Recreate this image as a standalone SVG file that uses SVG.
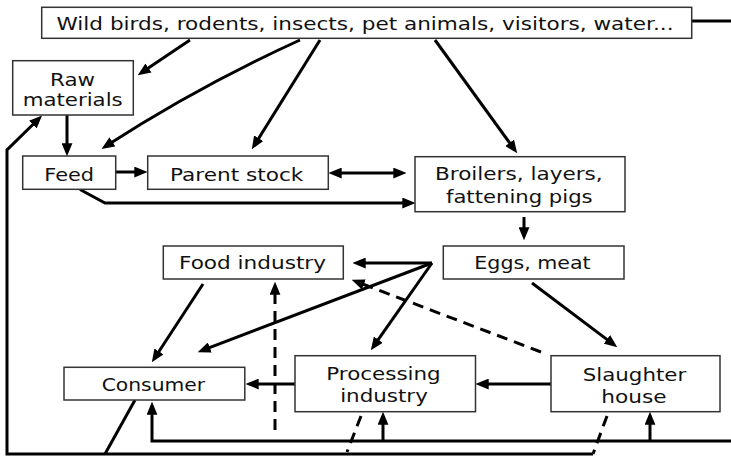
<svg xmlns="http://www.w3.org/2000/svg" width="731" height="456" viewBox="0 0 731 456">
<style>
.box{fill:#fff;stroke:#333;stroke-width:1.5}
.t{font-family:"DejaVu Sans","Verdana",sans-serif;font-size:18px;fill:#111;text-anchor:middle}
.c{fill:none;stroke:#000;stroke-width:3}
.a{marker-end:url(#ah)}
.d{stroke-dasharray:11 7}
</style>
<defs>
<marker id="ah" viewBox="0 0 12 10" refX="8" refY="5" markerWidth="13" markerHeight="11" markerUnits="userSpaceOnUse" orient="auto-start-reverse">
<path d="M0,0 L12,5 L0,10 z" fill="#000"/>
</marker>
</defs>
<rect width="731" height="456" fill="#fff"/>
<g id="connectors">
<line class="c" x1="692" y1="21" x2="731" y2="21"/>
<line class="c a" x1="190" y1="40" x2="141.3" y2="72.8"/>
<path class="c a" d="M300,40 Q197,87 105.2,146.6"/>
<line class="c a" x1="320" y1="40" x2="254.1" y2="145.6"/>
<line class="c a" x1="435" y1="40" x2="514.7" y2="149.8"/>
<line class="c a" x1="67" y1="115" x2="67" y2="152"/>
<line class="c a" x1="116" y1="172" x2="143" y2="172"/>
<line class="c a" x1="333" y1="173" x2="402" y2="173" marker-start="url(#ah)"/>
<path class="c a" d="M80,189.5 L105,203 L411,203"/>
<line class="c a" x1="524" y1="217" x2="524" y2="236"/>
<line class="c a" x1="432" y1="263" x2="357" y2="263"/>
<line class="c a" x1="432" y1="263" x2="201.7" y2="350.6"/>
<line class="c a" x1="432" y1="263" x2="373.3" y2="346.7"/>
<line class="c a d" x1="541" y1="352" x2="355.7" y2="281.4"/>
<line class="c a" x1="203" y1="284" x2="154.2" y2="358.7"/>
<line class="c a d" x1="275" y1="430" x2="275" y2="286"/>
<line class="c a" x1="532" y1="283" x2="613.8" y2="344.6"/>
<line class="c a" x1="295" y1="384" x2="250" y2="384"/>
<line class="c a" x1="551" y1="384" x2="480" y2="384"/>
<path class="c a" d="M731,441 H152 V406"/>
<line class="c a" x1="383" y1="441" x2="383" y2="416"/>
<line class="c a" x1="650" y1="441" x2="650" y2="416"/>
<path class="c a" d="M593,454 H7 V150 L39,118.5"/>
<line class="c" x1="135" y1="400" x2="105" y2="454"/>
<line class="c d" x1="361" y1="416" x2="347" y2="452"/>
<line class="c d" x1="607" y1="416" x2="593" y2="454"/>
</g>
<g id="sources">
<rect class="box" x="41.7" y="7.3" width="650" height="31"/>
<text class="t" x="365" y="30" textLength="617" lengthAdjust="spacingAndGlyphs">Wild birds, rodents, insects, pet animals, visitors, water...</text>
</g>
<g id="raw">
<rect class="box" x="12.7" y="60.7" width="120.6" height="54.3"/>
<text class="t" x="72.5" y="86" textLength="45" lengthAdjust="spacingAndGlyphs">Raw</text>
<text class="t" x="72.7" y="106" textLength="100" lengthAdjust="spacingAndGlyphs">materials</text>
</g>
<g id="feed">
<rect class="box" x="22.7" y="156" width="93" height="33.3"/>
<text class="t" x="69.2" y="181" textLength="49.7" lengthAdjust="spacingAndGlyphs">Feed</text>
</g>
<g id="parent">
<rect class="box" x="147.7" y="156" width="180.6" height="33.3"/>
<text class="t" x="236.7" y="181" textLength="133.3" lengthAdjust="spacingAndGlyphs">Parent stock</text>
</g>
<g id="broilers">
<rect class="box" x="415" y="156.7" width="210" height="55"/>
<text class="t" x="518.8" y="180" textLength="167.7" lengthAdjust="spacingAndGlyphs">Broilers, layers,</text>
<text class="t" x="519.3" y="202.7" textLength="146.7" lengthAdjust="spacingAndGlyphs">fattening pigs</text>
</g>
<g id="eggs">
<rect class="box" x="443.3" y="246" width="180.7" height="33"/>
<text class="t" x="532.5" y="269.3" textLength="116.3" lengthAdjust="spacingAndGlyphs">Eggs, meat</text>
</g>
<g id="food">
<rect class="box" x="163.3" y="246" width="180" height="33"/>
<text class="t" x="252.5" y="269.3" textLength="147" lengthAdjust="spacingAndGlyphs">Food industry</text>
</g>
<g id="consumer">
<rect class="box" x="64" y="367.3" width="180.8" height="32.7"/>
<text class="t" x="153.4" y="390.7" textLength="103.5" lengthAdjust="spacingAndGlyphs">Consumer</text>
</g>
<g id="processing">
<rect class="box" x="295" y="355.7" width="180.5" height="56"/>
<text class="t" x="383.5" y="380" textLength="114.3" lengthAdjust="spacingAndGlyphs">Processing</text>
<text class="t" x="384" y="401.7" textLength="87.7" lengthAdjust="spacingAndGlyphs">industry</text>
</g>
<g id="slaughter">
<rect class="box" x="551" y="355.7" width="169" height="56"/>
<text class="t" x="634.5" y="380.7" textLength="103.4" lengthAdjust="spacingAndGlyphs">Slaughter</text>
<text class="t" x="634" y="402.7" textLength="65.3" lengthAdjust="spacingAndGlyphs">house</text>
</g>
</svg>
